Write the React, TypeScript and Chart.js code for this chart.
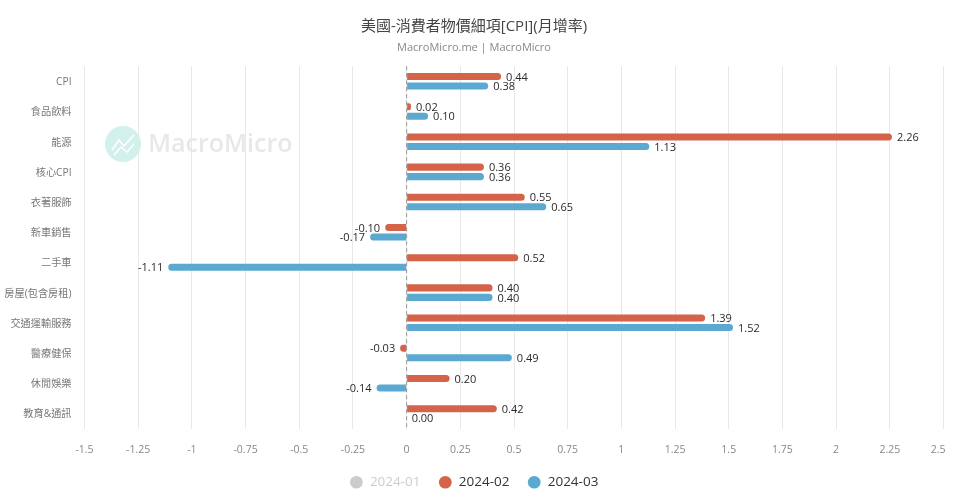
import React, { useEffect, useRef } from "react";
import { Chart, registerables } from "chart.js";

Chart.register(...registerables);

const titleText = "美國-消費者物價細項[CPI](月增率)";
const subtitleText = "MacroMicro.me | MacroMicro";
const watermarkText = "MacroMicro";
const categories = ["CPI", "食品飲料", "能源", "核心CPI", "衣著服飾", "新車銷售", "二手車", "房屋(包含房租)", "交通運輸服務", "醫療健保", "休閒娛樂", "教育&通訊"];
const seriesJan: (number | null)[] = [];
const seriesFeb = [0.44, 0.02, 2.26, 0.36, 0.55, -0.10, 0.52, 0.40, 1.39, -0.03, 0.20, 0.42];
const seriesMar = [0.38, 0.10, 1.13, 0.36, 0.65, -0.17, -1.11, 0.40, 1.52, 0.49, -0.14, 0.00];
const seriesNames = ["2024-01", "2024-02", "2024-03"];

const RED = "#d4634a";
const BLUE = "#5ba9d0";
const GREY = "#cccccc";
const FONT = '"Open Sans", "Noto Sans CJK TC", sans-serif';

const extras = {
  id: "extras",
  beforeDatasetsDraw(chart: any) {
    const { ctx, chartArea, scales } = chart;
    ctx.save();
    // watermark
    ctx.fillStyle = "#d3f1ec";
    ctx.beginPath();
    ctx.arc(123, 144, 18, 0, Math.PI * 2);
    ctx.fill();
    ctx.strokeStyle = "#ffffff";
    ctx.lineWidth = 1.5;
    ctx.beginPath();
    ctx.moveTo(112, 150); ctx.lineTo(119, 140); ctx.lineTo(124, 146); ctx.lineTo(134, 135);
    ctx.moveTo(114, 155); ctx.lineTo(121, 147); ctx.lineTo(127, 152); ctx.lineTo(134, 144);
    ctx.stroke();
    ctx.fillStyle = "#e8e8e8";
    ctx.font = `600 25px ${FONT}`;
    ctx.textAlign = "left";
    ctx.textBaseline = "middle";
    ctx.fillText(watermarkText, 148, 145);
    // zero line
    const x0 = scales.x.getPixelForValue(0);
    ctx.strokeStyle = "#999999";
    ctx.lineWidth = 1;
    ctx.setLineDash([4, 3]);
    ctx.beginPath();
    ctx.moveTo(x0, chartArea.top);
    ctx.lineTo(x0, chartArea.bottom);
    ctx.stroke();
    ctx.restore();
  },
  afterDatasetsDraw(chart: any) {
    const { ctx } = chart;
    ctx.save();
    ctx.font = `11px ${FONT}`;
    ctx.fillStyle = "#2a2a2a";
    ctx.textBaseline = "middle";
    chart.data.datasets.forEach((ds: any, i: number) => {
      if (!chart.isDatasetVisible(i)) return;
      chart.getDatasetMeta(i).data.forEach((el: any, j: number) => {
        const v = ds.data[j];
        if (v == null) return;
        const neg = v < 0;
        ctx.textAlign = neg ? "right" : "left";
        ctx.fillText(v.toFixed(2), el.x + (neg ? -5 : 5), el.y + 1);
      });
    });
    ctx.restore();
  },
};

export default function App() {
  const ref = useRef<HTMLCanvasElement>(null);
  useEffect(() => {
    const chart = new Chart(ref.current!, {
      type: "bar",
      data: {
        labels: categories,
        datasets: [
          { label: seriesNames[0], data: seriesJan, backgroundColor: GREY, hidden: true },
          { label: seriesNames[1], data: seriesFeb, backgroundColor: RED },
          { label: seriesNames[2], data: seriesMar, backgroundColor: BLUE },
        ],
      },
      options: {
        indexAxis: "y",
        responsive: false,
        animation: false,
        layout: { padding: { left: 4.5, right: 16.5, top: 18, bottom: 1 } },
        datasets: { bar: { categoryPercentage: 0.63, barPercentage: 0.74, borderRadius: 4 } },
        plugins: {
          tooltip: { enabled: false },
          title: { display: true, text: titleText, color: "#444444", font: { family: FONT, size: 15, weight: "normal" }, padding: { top: 0, bottom: 5 } },
          subtitle: { display: true, text: subtitleText, color: "#888888", font: { family: FONT, size: 11, weight: "normal" }, padding: { top: 0, bottom: 12 } },
          legend: {
            position: "bottom",
            labels: {
              usePointStyle: true,
              pointStyle: "circle",
              boxHeight: 9,
              padding: 18,
              font: { family: FONT, size: 13.5 },
              generateLabels: () => seriesNames.map((name, i) => ({
                text: name,
                fillStyle: [GREY, RED, BLUE][i],
                strokeStyle: [GREY, RED, BLUE][i],
                lineWidth: 0,
                fontColor: i === 0 ? GREY : "#333333",
                hidden: false,
                pointStyle: "circle",
                datasetIndex: i,
              })),
            },
          },
        },
        scales: {
          x: {
            min: -1.5,
            max: 2.5,
            afterFit: (s: any) => { s.height = 29; s.paddingLeft = 0; s.paddingRight = 0; },
            ticks: { stepSize: 0.25, color: "#888888", font: { family: FONT, size: 10.5 }, padding: 15, maxRotation: 0, autoSkip: false, callback: (v: any) => (v === 2.5 ? "2.5    " : String(v)) },
            grid: { color: "#e8e8e8", drawTicks: false },
            border: { display: false },
          },
          y: {
            afterFit: (s: any) => { s.width = 80; },
            ticks: { color: "#777777", font: { family: FONT, size: 10.2 }, padding: 13, labelOffset: 1 },
            grid: { display: false, drawTicks: false },
            border: { display: false },
          },
        },
      },
      plugins: [extras],
    } as any);
    return () => chart.destroy();
  }, []);
  return (
    <div style={{ position: "absolute", left: 0, top: 0, width: 960, height: 500, background: "#fff" }}>
      <canvas ref={ref} width={960} height={500} style={{ display: "block" }} />
    </div>
  );
}
